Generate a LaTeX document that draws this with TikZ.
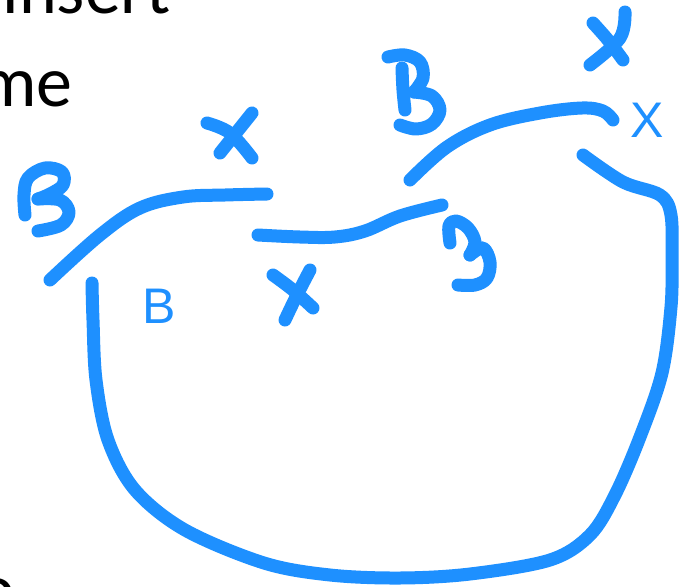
\documentclass[tikz,border=0pt]{standalone}
\usepackage{fontspec}
\setmainfont{Carlito}
\newfontfamily\labelfont{Liberation Sans}
\definecolor{sketchblue}{HTML}{1E90FF}
\begin{document}
\begin{tikzpicture}[x=1pt,y=-1pt,
  penline/.style={draw=sketchblue,line width=13pt,line cap=round,line join=round},
  bluelabel/.style={text=sketchblue,font=\labelfont\fontsize{50}{60}\selectfont,inner sep=0pt,anchor=base},
  blacktext/.style={text=black,font=\fontsize{72}{80}\selectfont,inner sep=0pt}]
\useasboundingbox (0,0) rectangle (681,587);
\clip (0,0) rectangle (681,587);
\fill[white] (0,0) rectangle (681,587);

% black text (cut off by the frame)
\node[blacktext,anchor=base west] (insert) at (2.5,13) {insert};
\node[blacktext,anchor=base east] (me) at (73,106) {me};
\node[blacktext,anchor=base east] (cut) at (16,613) {o};

% blue printed labels
\node[bluelabel] (lblX) at (647.5,137) {X};
\node[bluelabel] (lblB) at (159,323) {B};

% left top curve
\draw[penline] plot[smooth,tension=0.6] coordinates {(50,280) (100,235) (140,208) (183,197) (225,195) (267,194)};
% middle curve
\draw[penline] plot[smooth,tension=0.6] coordinates {(258,235) (300,237) (335,237) (365,231) (400,216) (442,205)};
% upper right curve
\draw[penline] plot[smooth,tension=0.6] coordinates {(410,180) (447,147) (490,125) (540,113) (582,108) (603,111) (613,120)};
% big loop
\draw[penline] plot[smooth,tension=0.55] coordinates {(583,155) (623,182) (660,195) (671,215) (672,260) (671,307) (662,373) (640,437) (615,495) (590,535) (550,560) (470,574) (400,578) (330,575) (264,563) (185,530) (135,490) (108,440) (96,380) (93,320) (92,283)};

% handwritten x marks
\draw[penline] plot[smooth,tension=0.6] coordinates {(593,23) (608,40) (623,60)};
\draw[penline] plot[smooth,tension=0.6] coordinates {(625,12) (620,38) (590,65)};
\draw[penline] plot[smooth,tension=0.6] coordinates {(207,123) (230,133) (252,158)};
\draw[penline] (252,113) -- (220,153);
\draw[penline] plot[smooth,tension=0.6] coordinates {(273,275) (293,290) (313,308)};
\draw[penline] plot[smooth,tension=0.6] coordinates {(310,270) (296,297) (285,320)};

% handwritten B left
\draw[penline] plot[smooth,tension=0.6] coordinates {(25,215) (24,195) (28,178) (45,168) (62,172) (63,185) (50,194) (38,199)};
\draw[penline] plot[smooth,tension=0.6] coordinates {(38,199) (60,200) (69,212) (61,225) (38,231)};
% handwritten B top
\draw[penline] plot[smooth,tension=0.6] coordinates {(388,57) (405,55) (420,62) (423,78) (414,92)};
\draw[penline] plot[smooth,tension=0.6] coordinates {(414,92) (432,96) (440,110) (432,124) (416,129) (400,125)};
\draw[penline] plot[smooth,tension=0.6] coordinates {(402,68) (403,90) (405,110)};
% handwritten B right (rotated)
\draw[penline] plot[smooth,tension=0.6] coordinates {(450,243) (449,226) (456,221) (468,228) (475,242) (470,255)};
\draw[penline] plot[smooth,tension=0.6] coordinates {(470,255) (483,248) (490,262) (487,278) (475,285) (458,285)};
\end{tikzpicture}
\end{document}
